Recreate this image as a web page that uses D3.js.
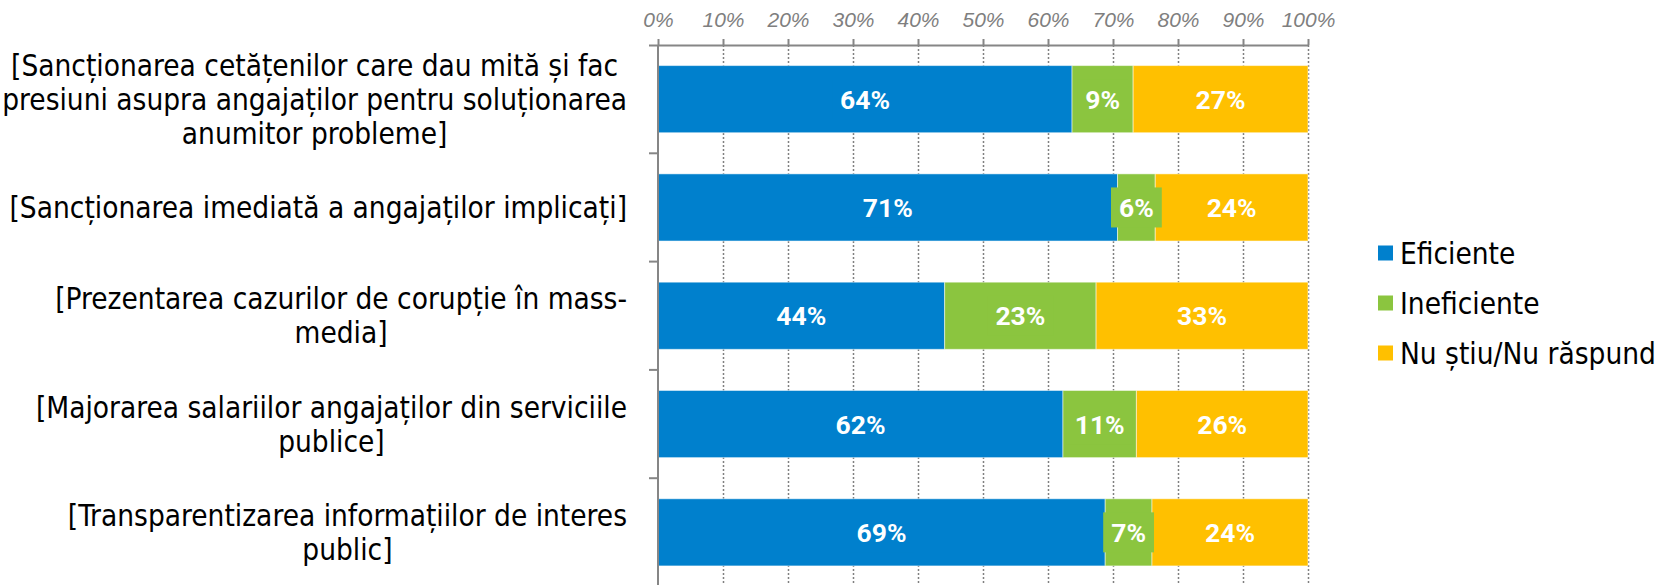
<!DOCTYPE html>
<html>
<head>
<meta charset="utf-8">
<script src="https://cdn.jsdelivr.net/npm/d3@7"></script>
<style>
  body { margin: 0; background: #fff; }
</style>
</head>
<body>
<div class="canvas"></div>
<script>
const width = 1668;
const height = 585;

// data (percent)
const categories = [
  "[Sancționarea cetățenilor care dau mită și fac\npresiuni asupra angajaților pentru soluționarea\nanumitor probleme]",
  "[Sancționarea imediată a angajaților implicați]",
  "[Prezentarea cazurilor de corupție în mass-\nmedia]",
  "[Majorarea salariilor angajaților din serviciile\npublice]",
  "[Transparentizarea informațiilor de interes\npublic]"
];
const seriesNames = ["Eficiente", "Ineficiente", "Nu știu/Nu răspund"];
const eficiente = [63.7, 70.7, 44.1, 62.3, 68.8];
const ineficiente = [9.4, 5.8, 23.3, 11.3, 7.2];
const nuStiu = [26.9, 23.5, 32.6, 26.4, 24.0];
const xTicks = [0, 10, 20, 30, 40, 50, 60, 70, 80, 90, 100];
const colors = ["#0080CD", "#8BC53F", "#FFC000"];

const catFont = "'DejaVu Sans Condensed', 'DejaVu Sans', sans-serif";

const svg = d3
  .select(".canvas")
  .append("svg")
  .attr("width", width)
  .attr("height", height);

const margin = { top: 45, left: 658, right: 360 };

const xScale = d3
  .scaleLinear()
  .domain([0, 100])
  .range([margin.left, width - margin.right]);

const yScale = d3
  .scaleBand()
  .domain(d3.range(categories.length))
  .range([margin.top, margin.top + 5 * 108.3])
  .paddingInner(0.38)
  .paddingOuter(0.19);

// dotted gridlines
svg.append("g")
  .selectAll("line")
  .data(xTicks.slice(1))
  .enter()
  .append("line")
  .attr("x1", d => xScale(d) + 0.5)
  .attr("x2", d => xScale(d) + 0.5)
  .attr("y1", margin.top)
  .attr("y2", height)
  .attr("stroke", "#808080")
  .attr("stroke-width", 1.5)
  .attr("stroke-dasharray", "2,2");

// stacked rows
const rows = categories.map((c, i) => [eficiente[i], ineficiente[i], nuStiu[i]]);
const segments = [];
rows.forEach((r, i) => {
  let acc = 0;
  r.forEach((v, j) => {
    segments.push({ row: i, s: j, x0: acc, x1: acc + v, v: v });
    acc += v;
  });
});

svg.append("g")
  .selectAll("rect")
  .data(segments)
  .enter()
  .append("rect")
  .attr("x", d => xScale(d.x0))
  .attr("y", d => yScale(d.row))
  .attr("width", d => xScale(d.x1) - xScale(d.x0))
  .attr("height", yScale.bandwidth())
  .attr("fill", d => colors[d.s])
  .attr("stroke", "#ffffff")
  .attr("stroke-opacity", 0.5)
  .attr("stroke-width", 1);

// value labels with a coloured box behind them
const labels = svg.append("g")
  .selectAll("g")
  .data(segments)
  .enter()
  .append("g")
  .attr("transform", d => `translate(${(xScale(d.x0) + xScale(d.x1)) / 2}, ${yScale(d.row) + yScale.bandwidth() / 2})`);

labels.append("rect")
  .attr("class", "lblbg")
  .attr("fill", d => colors[d.s]);

labels.append("text")
  .text(d => Math.round(d.v) + "%")
  .attr("text-anchor", "middle")
  .attr("dy", "0.36em")
  .attr("fill", "#fff")
  .style("font-family", "Roboto, sans-serif")
  .style("font-weight", "bold")
  .style("font-size", "26.5px");

labels.each(function () {
  const g = d3.select(this);
  const w = g.select("text").node().getComputedTextLength() + 16;
  g.select("rect")
    .attr("x", -w / 2)
    .attr("y", -20)
    .attr("width", w)
    .attr("height", 40);
});

// top axis
const xAxis = d3.axisTop(xScale)
  .tickValues(xTicks)
  .tickFormat(d => d + "%")
  .tickSizeInner(6)
  .tickSizeOuter(0)
  .tickPadding(12);

const axisG = svg.append("g")
  .attr("transform", `translate(0, ${margin.top})`)
  .call(xAxis);

axisG.select(".domain")
  .attr("d", `M${margin.left - 9},0.5H${xScale(100)}`)
  .attr("stroke", "#868686")
  .attr("stroke-width", 2);

axisG.selectAll(".tick line")
  .attr("stroke", "#868686")
  .attr("stroke-width", 2);

axisG.selectAll(".tick text")
  .attr("fill", "#7f7f7f")
  .style("font-family", "'Liberation Sans', Arial, sans-serif")
  .style("font-style", "italic")
  .style("font-size", "21px");

// left axis line and category ticks
svg.append("line")
  .attr("x1", margin.left)
  .attr("x2", margin.left)
  .attr("y1", margin.top)
  .attr("y2", height)
  .attr("stroke", "#868686")
  .attr("stroke-width", 2);

svg.append("g")
  .selectAll("line")
  .data(d3.range(1, categories.length))
  .enter()
  .append("line")
  .attr("x1", margin.left - 9)
  .attr("x2", margin.left)
  .attr("y1", d => yScale(d) - yScale.step() * yScale.paddingInner() / 2)
  .attr("y2", d => yScale(d) - yScale.step() * yScale.paddingInner() / 2)
  .attr("stroke", "#868686")
  .attr("stroke-width", 2);

// category labels, lines centred inside a block that is right aligned
const lineH = 34;
const labelRight = 627;

categories.forEach((c, i) => {
  const lines = c.split("\n");
  const cy = yScale(i) + yScale.bandwidth() / 2;
  const g = svg.append("g");
  const texts = g.selectAll("text")
    .data(lines)
    .enter()
    .append("text")
    .text(d => d)
    .attr("text-anchor", "middle")
    .attr("y", (d, k) => cy + (k - (lines.length - 1) / 2) * lineH)
    .attr("dy", "0.36em")
    .attr("fill", "#000")
    .style("font-family", catFont)
    .style("font-size", "29.5px");
  const maxW = d3.max(texts.nodes(), n => n.getComputedTextLength());
  texts.attr("x", labelRight - maxW / 2);
});

// legend
const legend = svg.append("g")
  .selectAll("g")
  .data(seriesNames)
  .enter()
  .append("g")
  .attr("transform", (d, i) => `translate(1378, ${253 + i * 50})`);

legend.append("rect")
  .attr("x", 0)
  .attr("y", -7.5)
  .attr("width", 15)
  .attr("height", 15)
  .attr("fill", (d, i) => colors[i]);

legend.append("text")
  .text(d => d)
  .attr("x", 22)
  .attr("dy", "0.36em")
  .attr("fill", "#000")
  .style("font-family", catFont)
  .style("font-size", "29.5px");
</script>
</body>
</html>
